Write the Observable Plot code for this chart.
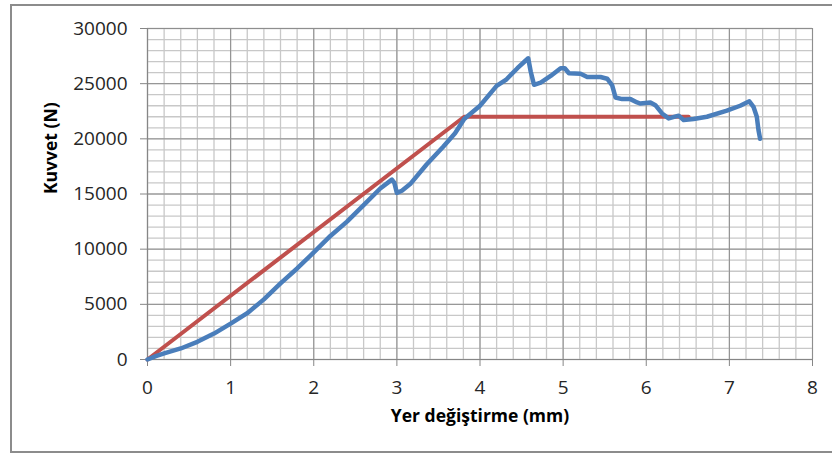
<!DOCTYPE html>
<html>
<head>
<meta charset="utf-8">
<script src="https://cdn.jsdelivr.net/npm/d3@7"></script>
<script src="https://cdn.jsdelivr.net/npm/@observablehq/plot@0.6"></script>
<style>
  html, body { margin: 0; padding: 0; background: #fff; }
  #wrap { position: relative; width: 832px; height: 457px; overflow: hidden; }
  #frame { position: absolute; left: 10px; top: 4px; width: 840px; height: 449px; border: 2px solid #8c8c8c; box-sizing: border-box; }
  #chart { position: absolute; left: 0; top: 0; }
</style>
</head>
<body>
<div id="wrap"><div id="frame"></div><div id="chart"></div></div>
<script>
// Measured curve (blue): displacement (mm) and force (N)
const dispX = [0.00, 0.10, 0.20, 0.40, 0.60, 0.80, 1.00, 1.20, 1.40, 1.60, 1.80, 2.00, 2.20, 2.40, 2.60, 2.80, 2.94, 2.97, 3.00, 3.06, 3.16, 3.36, 3.56, 3.70, 3.81, 4.00, 4.20, 4.32, 4.45, 4.55, 4.58, 4.61, 4.65, 4.73, 4.85, 4.97, 5.02, 5.07, 5.21, 5.29, 5.45, 5.53, 5.59, 5.63, 5.71, 5.81, 5.89, 5.93, 6.05, 6.11, 6.19, 6.27, 6.39, 6.45, 6.57, 6.73, 6.97, 7.13, 7.24, 7.29, 7.33, 7.35, 7.37];
const forceY = [0, 300, 550, 1000, 1600, 2350, 3250, 4200, 5450, 6900, 8250, 9700, 11200, 12500, 14000, 15500, 16300, 16000, 15100, 15300, 15900, 17700, 19300, 20500, 21800, 23000, 24800, 25400, 26400, 27100, 27300, 26100, 24900, 25100, 25700, 26400, 26400, 25950, 25900, 25600, 25600, 25450, 24850, 23750, 23600, 23600, 23300, 23200, 23300, 23050, 22300, 21850, 22100, 21700, 21800, 22000, 22550, 23000, 23400, 22900, 22000, 20800, 20000];

// Idealized bilinear curve (red)
const idealX = [0, 3.81, 6.51];
const idealY = [0, 22000, 22000];

// Tick values
const xMajor = [0, 1, 2, 3, 4, 5, 6, 7, 8];
const yMajor = [0, 5000, 10000, 15000, 20000, 25000, 30000];
const xMinor = d3.range(0, 41).map(i => i / 5);
const yMinor = d3.range(0, 31).map(i => i * 1000);

const xTitle = "Yer değiştirme (mm)";
const yTitle = "Kuvvet (N)";

const measured = dispX.map((x, i) => ({x, y: forceY[i]}));
const ideal = idealX.map((x, i) => ({x, y: idealY[i]}));

const font = "'Open Sans', Calibri, sans-serif";

const chart = Plot.plot({
  width: 832,
  height: 457,
  marginLeft: 147,
  marginRight: 20,
  marginTop: 28,
  marginBottom: 98,
  style: {fontFamily: font, fontSize: "19px", color: "#262626", background: "transparent"},
  x: {domain: [0, 8]},
  y: {domain: [0, 30000]},
  marks: [
    Plot.gridX(xMinor, {stroke: "#c8c8c8", strokeOpacity: 1, strokeWidth: 1.3}),
    Plot.gridY(yMinor, {stroke: "#c8c8c8", strokeOpacity: 1, strokeWidth: 1.3}),
    Plot.gridX(xMajor, {stroke: "#8e8e8e", strokeOpacity: 1, strokeWidth: 1}),
    Plot.gridY(yMajor, {stroke: "#8e8e8e", strokeOpacity: 1, strokeWidth: 1}),
    Plot.ruleX([0], {stroke: "#868686", strokeWidth: 1.2}),
    Plot.ruleY([0], {stroke: "#868686", strokeWidth: 1.2}),
    Plot.axisX({ticks: xMajor, tickSize: 7, tickPadding: 14, stroke: "#868686", label: null, tickFormat: d3.format("d"), fontSize: 19}),
    Plot.axisY({ticks: yMajor, tickSize: 7, tickPadding: 13, stroke: "#868686", label: null, tickFormat: d => String(d), fontSize: 19}),
    Plot.line(ideal, {x: "x", y: "y", stroke: "#c0504d", strokeWidth: 4, strokeLinejoin: "round", strokeLinecap: "round"}),
    Plot.line(measured, {x: "x", y: "y", stroke: "#4a7ebb", strokeWidth: 4.5, strokeLinejoin: "round", strokeLinecap: "round"}),
    Plot.text([xTitle], {text: d => d, frameAnchor: "bottom", dy: 62, fontWeight: "bold", fontSize: 17.5, fill: "#000"}),
    Plot.text([yTitle], {text: d => d, frameAnchor: "left", dx: -96, rotate: -90, fontWeight: "bold", fontSize: 17.5, fill: "#000"})
  ]
});
document.getElementById("chart").appendChild(chart);
</script>
</body>
</html>
